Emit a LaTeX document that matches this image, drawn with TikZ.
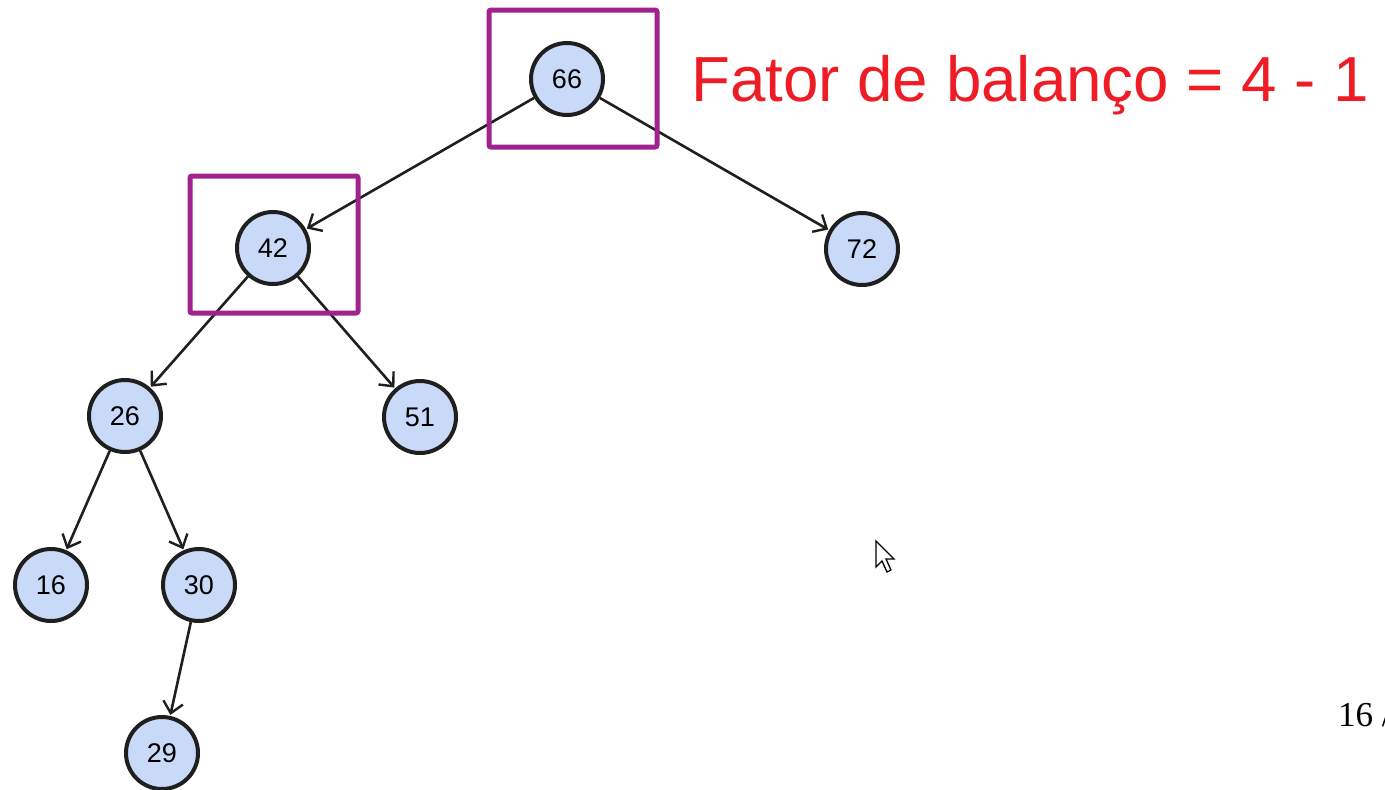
\documentclass[tikz,border=0pt]{standalone}
\usepackage{fontspec}
\setmainfont{Liberation Sans}
\newfontfamily\serifnum{Liberation Serif}
\usetikzlibrary{arrows.meta}
\definecolor{nodefill}{HTML}{C9D9F8}
\definecolor{boxpurple}{HTML}{A0228E}
\definecolor{titlered}{HTML}{EE1C25}
\tikzset{
  x=1pt, y=-1pt,
  treenode/.style={circle, draw=black!88, line width=4pt, fill=nodefill, minimum size=72pt, inner sep=0pt, font=\fontsize{27}{30}\selectfont},
  edge/.style={draw=black!88, line width=2.6pt, -{Straight Barb[length=11pt,width=20pt,line width=2.4pt]}, shorten >=1pt},
  markbox/.style={draw=boxpurple, line width=5pt, rounded corners=2pt},
}
\begin{document}
\begin{tikzpicture}
\useasboundingbox (0,0) rectangle (1385,790);
\node[treenode] (n66) at (567,79) {66};
\node[treenode] (n42) at (273,248) {42};
\node[treenode] (n72) at (862,249) {72};
\node[treenode] (n26) at (125,416) {26};
\node[treenode] (n51) at (420,417) {51};
\node[treenode] (n16) at (51,585) {16};
\node[treenode] (n30) at (199,585) {30};
\node[treenode] (n29) at (162,753) {29};
\draw[edge] (n66) -- (n42);
\draw[edge] (n66) -- (n72);
\draw[edge] (n42) -- (n26);
\draw[edge] (n42) -- (n51);
\draw[edge] (n26) -- (n16);
\draw[edge] (n26) -- (n30);
\draw[edge] (n30) -- (n29);
\draw[markbox] (489,10) rectangle (657,147);
\draw[markbox] (190,176) rectangle (358,313);
\node[anchor=base west, inner sep=0pt, text=titlered, font=\fontsize{63.7}{70}\selectfont] (title) at (691,101) {Fator de balanço = 4 - 1};
\node[anchor=base west, inner sep=0pt, font=\serifnum\fontsize{35}{40}\selectfont] (page) at (1338,726) {16 /};
\draw[fill=white, draw=black, line width=1.3pt, line join=miter] (876,541) -- (876,567) -- (882,561) -- (887,572) -- (891,570) -- (886,559) -- (894,559) -- cycle;
\end{tikzpicture}
\end{document}
